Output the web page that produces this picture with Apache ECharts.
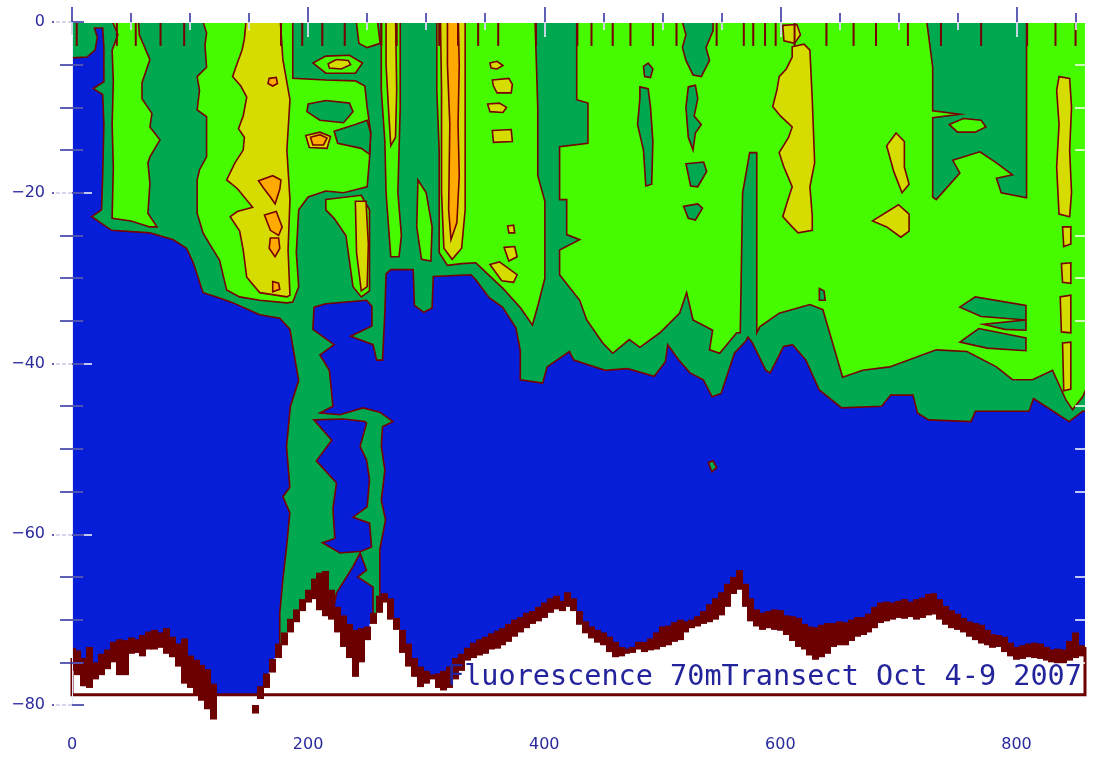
<!DOCTYPE html>
<html>
<head>
<meta charset="utf-8">
<title>Fluorescence 70mTransect Oct 4-9 2007</title>
<script src="https://cdn.jsdelivr.net/npm/echarts@6/dist/echarts.min.js"></script>
<style>
  html, body { margin: 0; padding: 0; background: #fff; }
  #chart { width: 1101px; height: 762px; }
</style>
</head>
<body>
<div id="chart"></div>
<script>
// axis ticks
var xMajorTicks = [0, 200, 400, 600, 800];
var xMinorTicks = [50, 100, 150, 250, 300, 350, 450, 500, 550, 650, 700, 750, 850];
var yMajorTicks = [-80, -60, -40, -20, 0];
var yMinorTicks = [-75, -70, -65, -55, -50, -45, -35, -30, -25, -15, -10, -5];
var xMax = 858;

// contour level colours: 0 blue, 1 dark green, 2 light green, 3 yellow, 4 orange
var levelColors = ['#061ed7', '#00a84f', '#46fa00', '#d6dc00', '#ffaa00'];
var lineColor = '#780000';
var floorColor = '#6c0000';
var axisBlue = '#2a2a9e';

// contour regions, [distance, depth] outlines
var darkGreenMain = [
  [-2, 1], [862, 1], [862, -45.6], [855.9, -45.6], [844.6, -46.8], [833.3, -45.8], [814.4, -44.1],
  [810.6, -45.6], [765.2, -45.6], [761.4, -46.8], [725.5, -46.6], [716.1, -45.8], [712.3, -43.7],
  [693.4, -43.7], [685.8, -45], [651.9, -45.2], [632.9, -43.1], [621.6, -39.6], [610.3, -37.8],
  [602.7, -38], [591.4, -41.1], [587.6, -40.8], [576.3, -37.6], [572.5, -36.9], [570.6, -37.4],
  [561.1, -38.8], [549.8, -43.5], [542.2, -43.9], [534.7, -41.9], [523.4, -41.1], [513.9, -39.6],
  [504.5, -37.8], [502.6, -39.8], [493.2, -41.5], [470.5, -40.6], [451.6, -40.8], [425, -39.6],
  [421.3, -38.6], [402.4, -40.4], [398.6, -42.3], [379.7, -41.9], [379.7, -38.5], [375.9, -35.8],
  [364.6, -33.4], [353.3, -32.3], [342, -30.2], [338, -29.6], [306, -29.8], [305, -33.5], [298, -34],
  [290, -33.2], [289, -29], [270, -29], [266, -29.5], [265, -34], [263, -39.6], [258, -39.6],
  [255, -37.8], [236, -36.8], [254, -35.6], [254, -33.3], [249.5, -32.6], [215, -33], [205, -33.4],
  [204, -36], [222, -37.8], [210, -39], [218, -40.8], [221, -45], [210, -45.8], [227, -46],
  [246.4, -45.2], [260.7, -45.7], [271.8, -46.8], [263, -47.4], [262, -49.7], [265, -52.5], [262, -56],
  [265.6, -58.3], [260.7, -61.8], [260.7, -67.3], [260.7, -82], [176, -82], [176, -69.2], [178.6, -65.3],
  [181.7, -61.5], [184.5, -57.5], [178.6, -55.6], [184.5, -54.5], [181.7, -49.7], [185, -45], [192, -42],
  [187, -38], [184.6, -36], [176, -34.7], [159, -34.3], [136.6, -32.9], [122.5, -32.2], [111, -31.7],
  [102.7, -28.2], [97, -26.5], [85.8, -25.5], [66, -24.7], [33.6, -24.4], [16.7, -22.8], [25, -22],
  [26, -18], [27, -12], [26, -8.5], [18, -7.8], [27, -7], [27, -3], [26, -0.7], [19, -0.7],
  [21.5, -1.8], [19.5, -3.3], [12.7, -4.1], [0, -4.2], [-2, -4.2]
];
var blueGapUpper = [
  [204.8, -46.6], [230, -46.5], [248, -46.8], [249.5, -47], [244, -49.7], [249.5, -51.3], [252, -53.6],
  [250, -56.8], [238, -58], [252, -58.7], [253.7, -61.5], [245, -62], [227, -62.2], [212, -61],
  [222.6, -60.5], [221, -57], [224, -54], [207, -51.4], [220, -49]
];
var blueGapLower = [
  [238, -63.8], [244, -62.2], [249.5, -64.2], [242, -65], [255, -66.2], [255, -82], [221, -82],
  [221, -69.2], [224, -66.9]
];
var darkGreenSpeck = [[539, -51.6], [543, -51.4], [546, -52.2], [542, -52.7]];

var lightGreenLeft = [
  [34.5, 1], [55.9, 1], [57, -1.5], [66, -4.4], [59.3, -7.1], [59.3, -9], [67.7, -10.7], [66, -12.3],
  [74.5, -13.8], [66, -15.8], [64.3, -16.5], [66, -18.9], [64.3, -22.4], [72, -24], [66, -24],
  [50, -23.3], [34, -23], [35, -17], [34, -12], [35, -7], [34, -3.3], [38.9, -1.5], [34.5, 0]
];
var lightGreenCentre = [
  [111, 1], [187, 1], [187, -6.6], [215, -6.8], [240, -6.9], [248, -7.5], [250, -10], [253, -13],
  [252, -16], [250, -19.3], [230, -20], [215, -19.8], [200, -20.5], [192, -22], [190, -27], [192, -31],
  [187, -32.8], [182, -32.9], [159, -32.6], [142, -32.2], [131, -31.4], [125, -27.9], [117, -26.1],
  [111, -24.7], [106, -22.4], [106, -18.5], [108, -17.3], [114, -15.8], [114, -11.1], [106, -10.3],
  [108, -8], [106, -6.4], [114, -5.3], [112.6, -2.7], [114, -1.3], [111, 0]
];
var lightGreenRing = [[204, -4.8], [215, -4], [235, -3.9], [246, -4.8], [240, -6], [215, -6]];
var lightGreenTop = [[240, 1], [258, 1], [261, -2.5], [250, -3], [243, -2.5]];
var lightGreenLower = [
  [215, -20.8], [245, -20.3], [252, -22], [252, -31.5], [245, -32.2], [238, -31], [232, -25],
  [222, -23], [215, -22]
];
var lightGreenNarrow = [
  [262, 1], [278, 1], [278, -10], [276, -20], [279, -25], [277, -27.5], [270, -27.5], [266, -20],
  [265, -14], [262, -8]
];
var lightGreenWedge = [[293, -18.5], [300, -20], [305, -24], [304, -28], [296, -27.8], [292, -24]];
var lightGreenEast1 = [
  [309, 1], [392, 1], [394.5, -10], [394.5, -18], [400.5, -21], [400.5, -30], [395, -33], [390, -35.5],
  [380, -33.5], [365, -31.2], [345, -28.6], [342, -28.2], [330, -28.3], [318, -28.5], [311, -27],
  [311, -15], [309, -8]
];
var lightGreenEast2 = [
  [427.5, 1], [862, 1], [862, -42], [856, -43.9], [847.5, -45.4], [842, -44.3], [830.5, -40.8],
  [813.6, -41.9], [796.6, -41.9], [783, -40.4], [758, -38.6], [732, -38.4], [692.5, -40.4],
  [669.7, -40.8], [652.7, -41.6], [641.7, -36.4], [636, -33.7], [625, -33.1], [599, -34.1],
  [582.5, -35.7], [580, -36.4], [580, -15.3], [574, -15.3], [568, -20], [566, -36.4], [563, -36.4],
  [548.6, -38.8], [540, -38.4], [542.6, -36.1], [526, -34.9], [520.6, -31.7], [514.7, -34.1],
  [498, -36.4], [481, -38.1], [472, -37.2], [458, -38.8], [449.5, -37.6], [436, -34.9], [430, -32.6],
  [413, -29.6], [413, -26.7], [430, -25.5], [419, -24.9], [419, -20.8], [413, -20.8], [413, -14.6],
  [437, -14.2], [437, -9.5], [427.5, -9.1]
];
var lightGreenInR = [[743, -12], [755, -11.3], [770, -11.5], [774, -12.3], [765, -12.9], [750, -12.9]];

var darkGreenIslands = [
  [[200, -9.6], [215, -9.2], [235, -9.5], [238, -10.5], [230, -11.8], [210, -11.5], [199, -10.5]],
  [[222, -12.8], [240, -12], [250, -11.5], [253, -13], [252, -15.5], [245, -14.8], [225, -14.2]],
  [[724, 1], [808.5, 1], [808.5, -20.6], [787, -20], [783, -18.3], [796.6, -17.9], [783, -16.5],
   [769, -15.2], [746, -16.2], [752, -17.7], [732, -20.8], [729, -20.5], [729, -11.2], [752, -10.8],
   [729, -10.4], [729, -5.3], [724, 0]],
  [[481, -7.6], [488, -7.8], [490, -10], [492, -14], [491, -19], [486, -19.2], [484, -15], [479, -12], [481, -9]],
  [[484, -5.2], [488, -4.8], [492, -5.5], [490, -6.5], [485, -6.4]],
  [[515, 1], [543, 1], [543, -1], [537, -3], [540, -4.5], [533, -6.4], [526, -6.2], [520, -4.5], [517, -3], [520, -1.5]],
  [[522, -7.6], [528, -7.4], [530, -9], [527, -11], [533, -12], [528, -13], [526, -15], [522, -13.5], [520, -10]],
  [[520, -16.6], [535, -16.4], [537.6, -17.5], [530, -19.3], [524, -19.2]],
  [[518, -21.6], [530, -21.3], [534, -21.8], [528, -23.2], [522, -23]],
  [[752, -33.4], [765, -32.2], [808, -33.2], [808, -34.9], [770, -34.5]],
  [[772, -35.4], [808, -34.9], [808, -36.1], [790, -36]],
  [[752, -37.5], [768, -35.9], [808, -37], [808, -38.5], [775, -38.2]],
  [[633, -31.2], [637, -31.5], [638, -32.6], [633, -32.6]]
];

var yellowPatches = [
  [[148, 1], [176, 1], [178.6, -4.4], [184.6, -9.1], [182, -15], [184.6, -20.8], [183, -26.7],
   [184.6, -32], [182, -32.2], [159, -31.7], [148, -29.9], [145, -26.7], [142, -24.5], [134, -22.8],
   [140, -22.2], [153, -21.7], [140, -19.5], [131, -18.5], [138, -16.5], [145, -15], [146, -13.5],
   [141, -12.5], [145, -11], [148, -8.8], [143, -7.5], [136, -6.4], [140, -4.8], [144, -3.3], [146, -2]],
  [[217, -4.9], [224, -4.4], [234, -4.5], [236, -5], [228, -5.5], [218, -5.4]],
  [[198, -13.3], [210, -12.9], [219, -13.4], [216, -14.8], [201, -14.7]],
  [[240, -21], [249, -21], [251, -26], [250, -31], [245, -31.5], [241, -27]],
  [[266, 1], [274, 1], [275, -8], [274, -13.5], [270, -14.5], [268, -10], [266, -5]],
  [[312, 1], [333, 1], [333, -22], [330, -26.5], [322, -27.8], [315, -26.5], [313, -20], [313, -8]],
  [[354, -4.8], [360, -4.6], [365, -5.1], [360, -5.5], [355, -5.4]],
  [[356, -6.8], [370, -6.6], [373, -7.3], [372, -8.3], [360, -8.3], [357, -7.5]],
  [[352, -9.6], [362, -9.5], [368, -10], [365, -10.6], [354, -10.5]],
  [[356, -12.7], [372, -12.6], [373, -14], [357, -14.1]],
  [[369, -23.9], [374, -23.8], [375, -24.7], [370, -24.7]],
  [[366, -26.4], [375, -26.3], [377, -27.5], [370, -28]],
  [[354, -28.4], [362, -28.1], [377, -29.6], [374, -30.5], [364, -30.3]],
  [[610, -2.9], [620, -2.6], [625, -3.3], [627, -9.1], [629, -16.5], [625, -19.3], [627, -22.7],
   [627, -24.4], [615, -24.7], [610, -24], [602, -22.8], [606, -21], [610, -19.3], [603, -17],
   [599, -15.3], [607, -13.5], [610, -12.3], [600, -11], [593.5, -9.9], [597, -8], [599, -6.4],
   [605, -5.5], [610, -4.1]],
  [[602, -0.4], [614, -0.3], [617, -1.5], [612, -2.5], [603, -2.2]],
  [[698, -13], [705, -14], [705, -17], [709, -19], [703, -20], [696, -17.5], [690, -14.5]],
  [[678, -23.3], [700, -21.4], [709, -22.5], [709, -24.5], [702, -25.2], [690, -24]],
  [[836, -6.4], [845, -6.6], [846.6, -10], [845, -15], [846.6, -20], [845, -22.8], [836, -22.5],
   [834, -17], [836, -12], [834, -8]],
  [[839, -24], [846, -24], [846, -26], [840, -26.3]],
  [[838, -28.3], [846, -28.2], [846, -30.6], [839, -30.5]],
  [[837, -32.2], [846, -32], [846, -36.4], [838, -36.3]],
  [[839, -37.6], [846, -37.5], [846, -43], [840, -43.2]]
];

var orangePatches = [
  [[167, -6.6], [173, -6.5], [174, -7.2], [170, -7.5], [166, -7.2]],
  [[158, -18.6], [170, -18], [177, -18.5], [176, -19.6], [172, -21.3], [168, -20.5], [163, -19.6]],
  [[163, -22.6], [173, -22.2], [178, -24], [175, -25], [168, -24.4]],
  [[168, -25.3], [175, -25.3], [176, -26.5], [172, -27.5], [167, -26.5]],
  [[170, -30.4], [175, -30.6], [176, -31.3], [170, -31.6]],
  [[202, -13.5], [210, -13.2], [216, -13.6], [213, -14.4], [204, -14.4]],
  [[318, 1], [327, 1], [328, -5], [327, -12], [328, -18], [326, -23.5], [321, -25.5], [319, -22], [320, -12], [318, -5]]
];

// seafloor, sampled every floorStep along the transect
var floorStep = 5;
var floorTop = [
  -73.3, -73.6, -74.5, -73.2, -75.0, -74.0, -73.5, -72.6, -72.3, -72.4,
  -72.1, -72.3, -71.8, -71.4, -71.2, -71.5, -71.0, -72.0, -72.8, -72.2,
  -74.2, -74.7, -75.3, -75.8, -77.5, -80.5, -80.5, -80.5, -80.5, -80.5,
  -80.5, -80.0, -77.8, -76.3, -74.6, -72.8, -71.5, -69.9, -68.8, -67.6,
  -66.5, -65.2, -64.5, -64.3, -66.5, -68.5, -69.5, -70.5, -71.2, -71.0,
  -70.8, -69.2, -67.2, -66.9, -67.5, -69.8, -71.2, -72.8, -74.5, -75.5,
  -76.0, -76.4, -76.3, -76.0, -75.5, -74.5, -74.0, -73.3, -72.7, -72.3,
  -72.0, -71.6, -71.3, -71.0, -70.5, -70.0, -69.7, -69.2, -69.0, -68.5,
  -68.0, -67.5, -67.2, -67.8, -66.8, -67.5, -69.0, -70.2, -70.8, -71.2,
  -71.5, -72.0, -72.6, -73.2, -73.4, -73.2, -72.6, -72.6, -72.2, -71.5,
  -70.8, -70.7, -70.3, -70.0, -70.2, -70.0, -69.6, -69.0, -68.2, -67.5,
  -66.8, -65.8, -65.0, -64.2, -65.8, -67.5, -68.8, -69.2, -69.0, -68.8,
  -68.9, -69.5, -69.6, -69.8, -70.5, -70.8, -70.9, -70.6, -70.4, -70.4,
  -70.2, -70.3, -70.0, -69.7, -69.7, -69.3, -68.5, -68.0, -67.9, -68.0,
  -67.8, -67.6, -67.9, -67.6, -67.4, -67.0, -66.9, -67.6, -68.4, -68.9,
  -69.3, -69.8, -70.2, -70.4, -70.6, -71.2, -71.7, -71.8, -72.0, -72.7,
  -73.2, -73.0, -72.8, -72.7, -72.8, -73.2, -73.5, -73.4, -73.5, -72.5,
  -71.5, -73.0
];
var floorBase = [
  -76.0, -76.5, -77.8, -78.0, -77.0, -76.5, -75.8, -75.0, -76.5, -76.5,
  -74.0, -73.9, -74.3, -73.5, -73.5, -73.3, -74.0, -74.4, -75.5, -77.5,
  -78.0, -78.8, -79.5, -80.5, -81.7, -80.5, -80.5, -80.5, -80.5, -80.5,
  -80.5, -81.0, -79.3, -78.0, -76.2, -74.5, -73.0, -71.5, -70.3, -69.0,
  -68.0, -67.6, -68.9, -69.6, -70.0, -71.5, -73.2, -74.5, -76.7, -75.0,
  -72.4, -70.5, -69.2, -68.0, -70.0, -71.2, -73.9, -75.5, -76.7, -77.9,
  -77.5, -77.0, -78.0, -78.3, -78.0, -77.0, -76.0, -74.8, -74.5, -74.2,
  -74.0, -73.5, -73.4, -73.0, -72.6, -72.0, -71.5, -71.0, -70.5, -70.2,
  -69.8, -69.2, -68.8, -69.0, -68.5, -69.0, -70.6, -71.6, -72.2, -72.7,
  -73.0, -73.8, -74.4, -74.3, -74.0, -73.9, -73.5, -73.8, -73.6, -73.5,
  -73.2, -73.0, -72.6, -72.4, -71.5, -71.0, -70.8, -70.5, -70.3, -70.0,
  -69.5, -68.5, -67.0, -66.5, -68.5, -70.2, -70.8, -71.2, -71.0, -71.2,
  -71.3, -71.8, -72.5, -73.2, -73.5, -74.2, -74.7, -74.4, -74.0, -73.2,
  -73.0, -73.0, -72.5, -72.0, -71.8, -71.5, -71.0, -70.4, -70.2, -70.0,
  -69.8, -69.9, -69.7, -70.0, -69.8, -69.5, -69.4, -70.0, -70.6, -71.0,
  -71.2, -71.5, -72.0, -72.4, -72.8, -73.0, -73.3, -73.2, -73.8, -74.3,
  -74.7, -74.6, -74.4, -74.5, -74.6, -74.8, -75.0, -75.1, -75.1, -74.8,
  -74.5, -74.3
];

// label frame at the foot of the section
var frameDepth = -78.8;
var frameLeftTop = -74.5;
var frameRightTop = -73.2;

// cast positions marked at the surface
var stations = [4, 38, 54, 75, 95, 177, 195, 212, 231, 262, 275, 311, 327, 344, 361, 393, 428, 440, 458,
  473, 492, 512, 546, 569, 577, 587, 596, 612, 639, 662, 681, 708, 736, 770, 809, 833, 850];
var stationDepth = -2.8;

var shapes = [[1, darkGreenMain], [0, blueGapUpper], [0, blueGapLower], [1, darkGreenSpeck],
  [2, lightGreenLeft], [2, lightGreenCentre], [2, lightGreenRing], [2, lightGreenTop],
  [2, lightGreenLower], [2, lightGreenNarrow], [2, lightGreenWedge], [2, lightGreenEast1],
  [2, lightGreenEast2]];
darkGreenIslands.forEach(function (p) { shapes.push([1, p]); });
shapes.push([2, lightGreenInR]);
yellowPatches.forEach(function (p) { shapes.push([3, p]); });
orangePatches.forEach(function (p) { shapes.push([4, p]); });

function renderShape(params, api) {
  var s = shapes[params.dataIndex];
  return {
    type: 'polygon',
    shape: { points: s[1].map(function (p) { return api.coord(p); }) },
    style: { fill: levelColors[s[0]], stroke: lineColor, lineWidth: 1.6 }
  };
}

function floorRect(api, i, top, bottom) {
  var x = i * floorStep;
  var a = api.coord([Math.max(x - floorStep / 2, 0), top]);
  var b = api.coord([Math.min(x + floorStep / 2, xMax), bottom]);
  if (b[1] - a[1] <= 0) return null;
  return { x: Math.floor(a[0]), y: a[1], width: Math.ceil(b[0] - a[0]) + 1, height: b[1] - a[1] };
}

function renderFloorFill(params, api) {
  var r = floorRect(api, params.dataIndex, floorBase[params.dataIndex], -80);
  return r ? { type: 'rect', shape: r, style: { fill: '#ffffff', stroke: '#ffffff', lineWidth: 1 } } : null;
}

function renderFloorBand(params, api) {
  var i = params.dataIndex;
  var r = floorRect(api, i, floorTop[i], floorBase[i]);
  return r ? { type: 'rect', shape: r, style: { fill: floorColor } } : null;
}

function renderFrameFill(params, api) {
  var a = api.coord([0, frameDepth]);
  var b = api.coord([xMax, -80]);
  return { type: 'rect', shape: { x: a[0], y: a[1], width: b[0] - a[0], height: b[1] - a[1] + 1 }, style: { fill: '#ffffff' } };
}

function renderFrame(params, api) {
  return {
    type: 'polyline',
    shape: { points: [api.coord([0, frameLeftTop]), api.coord([0, frameDepth]),
      api.coord([xMax, frameDepth]), api.coord([xMax, frameRightTop])] },
    style: { stroke: floorColor, lineWidth: 3, fill: null }
  };
}

function renderStation(params, api) {
  var x = stations[params.dataIndex];
  var a = api.coord([x, 0]);
  var b = api.coord([x, stationDepth]);
  return { type: 'line', shape: { x1: a[0], y1: a[1], x2: b[0], y2: b[1] }, style: { stroke: lineColor, lineWidth: 2 } };
}

function xAx(extra) {
  return Object.assign({ type: 'value', min: 0, max: xMax, z: 5, splitLine: { show: false },
    axisLine: { show: false }, axisLabel: { show: false }, axisTick: { show: false } }, extra);
}
function yAx(extra) {
  return Object.assign({ type: 'value', min: -80, max: 0, z: 5, splitLine: { show: false },
    axisLine: { show: false }, axisLabel: { show: false }, axisTick: { show: false } }, extra);
}
function ticks(values, len, color, inside, type) {
  return { show: true, customValues: values, length: len, inside: !!inside,
    lineStyle: { color: color, width: 1.5, type: type || 'solid' } };
}
var labelFont = { color: axisBlue, fontSize: 16, fontFamily: 'DejaVu Sans' };

var chart = echarts.init(document.getElementById('chart'));
chart.setOption({
  animation: false,
  backgroundColor: '#ffffff',
  title: {
    text: 'Fluorescence 70mTransect Oct 4-9 2007',
    left: 447, top: 664, padding: 0,
    textStyle: { fontFamily: 'DejaVu Sans Mono', fontSize: 28.5, fontWeight: 'normal', color: '#23239c', lineHeight: 28 }
  },
  grid: { left: 72, right: 16, top: 22, bottom: 57, show: true, backgroundColor: levelColors[0], borderWidth: 0 },
  xAxis: [
    xAx({ position: 'bottom', offset: 8, axisTick: ticks(xMajorTicks, 13, axisBlue),
      axisLabel: Object.assign({ show: true, customValues: xMajorTicks, margin: 24 }, labelFont) }),
    xAx({ position: 'bottom', offset: 8, axisTick: ticks(xMinorTicks, 7, axisBlue) }),
    xAx({ position: 'top', axisTick: ticks(xMajorTicks, 15, axisBlue) }),
    xAx({ position: 'top', axisTick: ticks(xMinorTicks, 9, axisBlue) }),
    xAx({ position: 'top', axisLine: { show: true, lineStyle: { color: '#ffffff', width: 1 } },
      axisTick: ticks(xMajorTicks, 15, '#ffffff', true) }),
    xAx({ position: 'top', axisTick: ticks(xMinorTicks, 8, '#ffffff', true) })
  ],
  yAxis: [
    yAx({ position: 'left', axisTick: ticks(yMajorTicks, 20, axisBlue, false, [4, 2]),
      axisLabel: Object.assign({ show: true, customValues: yMajorTicks, margin: 27,
        formatter: function (v) { return v === 0 ? '0' : '\u2212' + Math.abs(v); } }, labelFont) }),
    yAx({ position: 'left', axisTick: ticks(yMinorTicks, 12, axisBlue) }),
    yAx({ position: 'left', axisLine: { show: true, lineStyle: { color: '#e6e9ff', width: 1 } },
      axisTick: ticks(yMajorTicks, 20, '#ffffff', true) }),
    yAx({ position: 'left', axisTick: ticks(yMinorTicks, 11, '#ffffff', true) }),
    yAx({ position: 'right', axisTick: ticks(yMajorTicks.concat(yMinorTicks), 12, axisBlue) }),
    yAx({ position: 'right', axisTick: ticks(yMajorTicks, 18, '#ffffff', true) }),
    yAx({ position: 'right', axisTick: ticks(yMinorTicks, 10, '#ffffff', true) })
  ],
  series: [
    { type: 'custom', name: 'fluorescence', clip: true, renderItem: renderShape,
      data: shapes.map(function (s, i) { return [i]; }) },
    { type: 'custom', name: 'below floor', clip: true, renderItem: renderFloorFill,
      data: floorBase.map(function (v, i) { return [i]; }) },
    { type: 'custom', name: 'frame fill', clip: false, renderItem: renderFrameFill, data: [[0]] },
    { type: 'custom', name: 'seafloor', clip: false, renderItem: renderFloorBand,
      data: floorTop.map(function (v, i) { return [i]; }) },
    { type: 'custom', name: 'frame', clip: false, renderItem: renderFrame, data: [[0]] },
    { type: 'custom', name: 'stations', clip: true, renderItem: renderStation,
      data: stations.map(function (v, i) { return [i]; }) }
  ]
});
</script>
</body>
</html>
